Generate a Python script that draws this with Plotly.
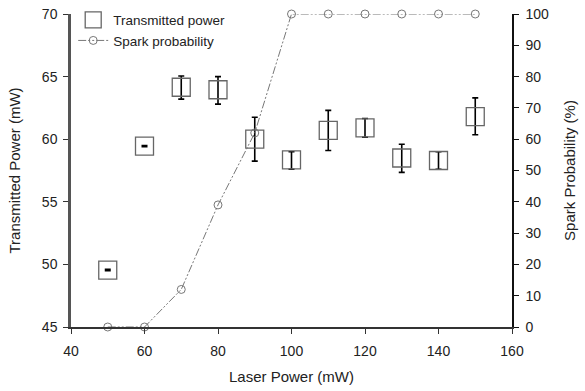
import plotly.graph_objects as go

laser_power = [50, 60, 70, 80, 90, 100, 110, 120, 130, 140, 150]
transmitted = [49.55, 59.45, 64.15, 63.95, 60.0, 58.35, 60.7, 60.9, 58.5, 58.3, 61.8]
err_plus = [0.05, 0.05, 0.9, 1.05, 1.75, 0.65, 1.6, 0.75, 1.1, 0.7, 1.5]
err_minus = [0.05, 0.05, 0.95, 1.15, 1.75, 0.75, 1.6, 0.75, 1.15, 0.7, 1.45]
spark_prob = [0, 0, 12, 39, 62, 100, 100, 100, 100, 100, 100]

font = dict(family="Liberation Sans, Arial, sans-serif", size=14, color="#222")
title_font = dict(family="Liberation Sans, Arial, sans-serif", size=15, color="#222")

fig = go.Figure()
fig.add_trace(go.Scatter(
    x=laser_power, y=transmitted, mode="markers", name="Transmitted power",
    marker=dict(symbol="square-open", size=18, color="#666", line=dict(width=1.3)),
    error_y=dict(type="data", array=err_plus, arrayminus=err_minus, color="black",
                 thickness=1.6, width=3),
))
fig.add_trace(go.Scatter(
    x=laser_power, y=spark_prob, mode="lines+markers", name="Spark probability",
    yaxis="y2", cliponaxis=False,
    line=dict(color="#777", width=1, dash="8px,2px,2px,2px,2px,2px"),
    marker=dict(symbol="circle-open", size=8, color="#777", line=dict(width=1)),
))

fig.update_layout(
    width=585, height=391, margin=dict(l=71, r=73, t=14, b=64, autoexpand=False),
    paper_bgcolor="white", plot_bgcolor="white", font=font,
    showlegend=True,
    legend=dict(x=0.005, y=1.03, xanchor="left", yanchor="top", bgcolor="rgba(0,0,0,0)",
                font=dict(size=13.5)),
    xaxis=dict(range=[40, 160], dtick=20, showline=True, linecolor="#333", linewidth=1.5,
               ticks="outside", ticklen=5, tickcolor="#333", showgrid=False, zeroline=False,
               ticklabeloverflow="allow", ticklabelstandoff=5,
               title=dict(text="Laser Power (mW)", standoff=14, font=title_font)),
    yaxis=dict(range=[45, 70], dtick=5, showline=True, linecolor="#555", linewidth=2.5,
               ticks="outside", ticklen=5, tickcolor="#333", showgrid=False, zeroline=False,
               ticklabeloverflow="allow", ticklabelstandoff=3,
               title=dict(text="Transmitted Power (mW)", standoff=18, font=title_font)),
    yaxis2=dict(range=[0, 100], dtick=10, overlaying="y", side="right", showline=True,
                linecolor="#111", linewidth=1.5, ticks="outside", ticklen=5, tickcolor="#111",
                showgrid=False, zeroline=False, ticklabeloverflow="allow", ticklabelstandoff=4,
                title=dict(text="Spark Probability (%)", standoff=16, font=title_font)),
)

# remove the page's default body margin so the 585x391 figure fills the window exactly
fig.write_html("out.html", config={"displayModeBar": False},
               post_script="document.body.style.margin='0';")
